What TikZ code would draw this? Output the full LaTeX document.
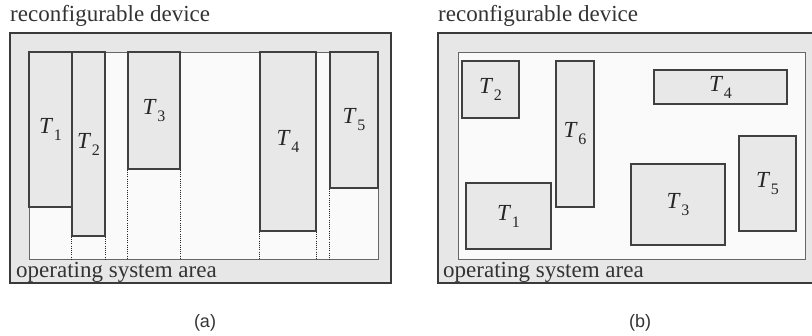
\documentclass[tikz,border=0pt]{standalone}
\usepackage{fontspec}
\setmainfont{Liberation Serif}
\newfontfamily\capfont{Liberation Sans}
\usepackage{tikz}
\usepackage{xcolor}
\usetikzlibrary{positioning}

\definecolor{devfill}{HTML}{E7E7E7}
\definecolor{osfill}{HTML}{FAFAFA}
\definecolor{taskfill}{HTML}{E8E8E8}
\definecolor{frame}{HTML}{3A3A3A}

% task label: italic T with a lowered index
\newcommand{\tlabel}[1]{\textit{T}\kern0.5pt\raisebox{-7pt}{\fontsize{16}{16}\selectfont #1}}

\tikzset{
  device/.style={draw=frame,line width=2.6pt,fill=devfill,inner sep=0pt},
  osarea/.style={draw=black!60,line width=0.9pt,fill=osfill,inner sep=0pt},
  task/.style={draw=black!75,line width=1.5pt,fill=taskfill,inner sep=0pt,
    font=\fontsize{23}{25}\selectfont,text=black!85},
  freeline/.style={line width=1.1pt,black!85,dash pattern=on 1pt off 1.2pt},
  title/.style={font=\fontsize{23}{26}\selectfont,text=black!80,inner sep=0pt},
  caption/.style={font=\capfont\fontsize{18}{20}\selectfont,text=black!80,inner sep=0pt}
}

\begin{document}
\begin{tikzpicture}[x=1pt,y=-1pt]
  \useasboundingbox (0,0) rectangle (812,336);

  % ---- (a) one-dimensional placement
  \node[device,minimum width=381,minimum height=250] (devA) at (200.5,158) {};
  \node[osarea,minimum width=349,minimum height=207] (areaA) at (203.5,155.5) {};
  \node[title,anchor=south west] (devlabA) at (10,27) {reconfigurable device};
  \node[title,anchor=base west] (oslabA) at (16,278) {operating system area};

  \node[task,minimum width=43,minimum height=155] (a1) at (50.5,129.5) {\tlabel{1}};
  \node[task,minimum width=33,minimum height=184] (a2) at (88.5,144) {\tlabel{2}};
  \node[task,minimum width=52,minimum height=117] (a3) at (154,110.5) {\tlabel{3}};
  \node[task,minimum width=56,minimum height=179] (a4) at (288,141.5) {\tlabel{4}};
  \node[task,minimum width=48,minimum height=136] (a5) at (354,120) {\tlabel{5}};

  % columns reserved below the tasks
  \foreach \t in {a2,a3,a4}{
    \draw[freeline] (\t.south west) -- (\t.south west |- areaA.south);
    \draw[freeline] (\t.south east) -- (\t.south east |- areaA.south);
  }
  \draw[freeline] (a5.south west) -- (a5.south west |- areaA.south);

  \node[caption] (capA) at (205,323) {(a)};

  % ---- (b) two-dimensional placement
  \node[device,minimum width=378,minimum height=250] (devB) at (627,158) {};
  \node[osarea,minimum width=347,minimum height=207] (areaB) at (631.5,155.5) {};
  \node[title,anchor=south west] (devlabB) at (438,27) {reconfigurable device};
  \node[title,anchor=base west] (oslabB) at (443,278) {operating system area};

  \node[task,minimum width=57,minimum height=57] (b2) at (490.5,89.5) {\tlabel{2}};
  \node[task,minimum width=38,minimum height=146] (b6) at (575,134) {\tlabel{6}};
  \node[task,minimum width=133,minimum height=34] (b4) at (720.5,87) {\tlabel{4}};
  \node[task,minimum width=57,minimum height=95] (b5) at (767.5,183.5) {\tlabel{5}};
  \node[task,minimum width=85,minimum height=66] (b1) at (508.5,216) {\tlabel{1}};
  \node[task,minimum width=94,minimum height=81] (b3) at (678,204.5) {\tlabel{3}};

  \node[caption] (capB) at (640,323) {(b)};
\end{tikzpicture}
\end{document}
